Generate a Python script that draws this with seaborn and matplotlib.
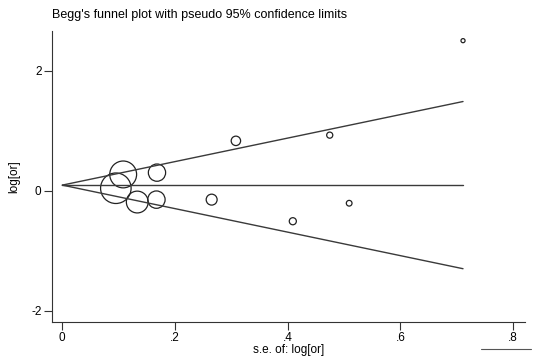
import numpy as np
import pandas as pd
import matplotlib.pyplot as plt
import seaborn as sns
from matplotlib.lines import Line2D

# study estimates
se = [0.095, 0.108, 0.133, 0.168, 0.167, 0.265, 0.308, 0.409, 0.4745, 0.509, 0.711]
logor = [0.04, 0.27, -0.19, 0.30, -0.15, -0.15, 0.83, -0.51, 0.925, -0.21, 2.50]
pooled = 0.092
xticks = [0, 0.2, 0.4, 0.6, 0.8]
xticklabels = ["0", ".2", ".4", ".6", ".8"]
yticks = [-2, 0, 2]

df = pd.DataFrame({"se": se, "logor": logor})
df["w"] = 1 / df["se"] ** 2

# pseudo 95% limits
lim = pd.DataFrame({"se": [0, df["se"].max()]})
lim["mid"] = pooled
lim["upper"] = pooled + 1.96 * lim["se"]
lim["lower"] = pooled - 1.96 * lim["se"]

sns.set_style("ticks")
plt.rcParams["font.family"] = ["Liberation Sans", "DejaVu Sans"]
plt.rcParams["axes.unicode_minus"] = False
plt.rcParams["text.color"] = "black"
plt.rcParams["axes.labelcolor"] = "black"
plt.rcParams["xtick.labelcolor"] = "black"
plt.rcParams["ytick.labelcolor"] = "black"

fig = plt.figure(figsize=(5.36, 3.57), dpi=100)
ax = fig.add_axes([0.097, 0.098, 0.8825, 0.815])

for col in ["mid", "upper", "lower"]:
    sns.lineplot(data=lim, x="se", y=col, ax=ax, color="#3a3a3a", lw=1.0)

k = 4.36
wmin, wmax = df["w"].min(), df["w"].max()
sns.scatterplot(data=df, x="se", y="logor", size="w", sizes=(k * wmin, k * wmax),
                size_norm=(wmin, wmax), facecolor="none", edgecolor="#222222",
                linewidth=0.9, legend=False, ax=ax)

ax.set_xlim(-0.0183, 0.821)
ax.set_ylim(-2.19, 2.66)
ax.set_xticks(xticks)
ax.set_xticklabels(xticklabels)
ax.set_yticks(yticks)
ax.tick_params(length=5.5, width=0.8, labelsize=8.5, pad=2, color="#333333")
sns.despine(ax=ax)
for s in ["left", "bottom"]:
    ax.spines[s].set_linewidth(0.8)
    ax.spines[s].set_color("#333333")

ax.set_xlabel("s.e. of: log[or]", fontsize=8.5, labelpad=0)
ax.set_ylabel("log[or]", fontsize=8.5, labelpad=8)
fig.text(0.097, 0.958, "Begg's funnel plot with pseudo 95% confidence limits",
         fontsize=9, va="center", ha="left")

fig.add_artist(Line2D([0.897, 0.99], [0.022, 0.022], color="#555555", lw=0.8))

fig.savefig("out.png", dpi=100)
